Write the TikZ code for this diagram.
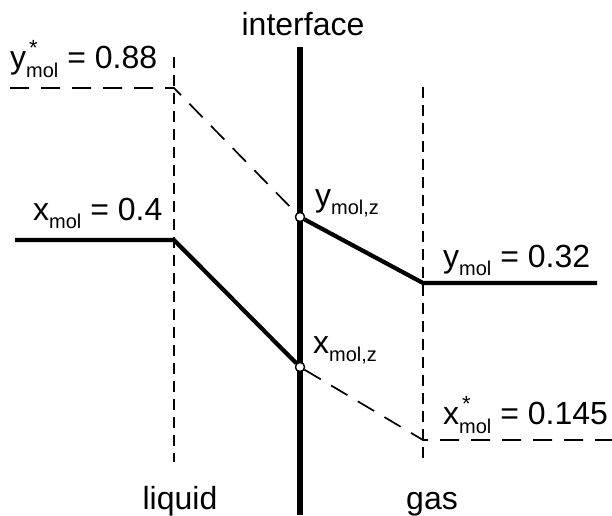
\documentclass[tikz,border=0pt]{standalone}
\usepackage{fontspec}
\setmainfont{Liberation Sans}
\newcommand{\molsub}[2]{#1\raisebox{-8pt}{\fontsize{20}{20}\selectfont #2}}
\newcommand{\molstar}[2]{#1\rlap{\hspace{3pt}\raisebox{13pt}{\fontsize{22}{22}\selectfont *}}\raisebox{-9pt}{\fontsize{20}{20}\selectfont #2}}
\tikzset{
  profile/.style={line width=4.2pt, line join=miter},
  guide/.style={line width=1.7pt, dash pattern=on 11pt off 7pt},
  equil/.style={line width=1.7pt, dash pattern=on 19pt off 12pt},
  wall/.style={line width=6.5pt},
  point/.style={circle, draw, fill=white, line width=1.3pt, inner sep=0pt, minimum size=9pt},
  lab/.style={font=\fontsize{32}{37}\selectfont, inner sep=0pt}
}
\begin{document}
\begin{tikzpicture}[x=1pt,y=-1pt]
\useasboundingbox (0,0) rectangle (612,515);
% interface and film borders
\coordinate (walltop) at (300,47);
\coordinate (wallbot) at (300,515);
\coordinate (ltop) at (174,57);
\coordinate (lbot) at (174,462);
\coordinate (gtop) at (423,87);
\coordinate (gbot) at (423,462);
\draw[wall] (walltop) -- (wallbot);
\draw[guide] (ltop) -- (lbot);
\draw[guide] (gtop) -- (gbot);
% profile corners
\coordinate (lstart) at (15,240);
\coordinate (lcorner) at (174,240);
\coordinate (gcorner) at (423,283);
\coordinate (gend) at (597,283);
\coordinate (ystart) at (10,88);
\coordinate (ycorner) at (174,88);
\coordinate (xcorner) at (423,440);
\coordinate (xend) at (612,440);
\node[point] (yz) at (300,217) {};
\node[point] (xz) at (300,367) {};
% equilibrium values
\draw[equil] (ystart) -- (ycorner) -- (yz);
\draw[equil] (xz) -- (xcorner) -- (xend);
% concentration profiles
\draw[profile] (lstart) -- (lcorner) -- (xz);
\draw[profile] (yz) -- (gcorner) -- (gend);
\node[point] at (yz) {};
\node[point] at (xz) {};
% labels
\node[lab] (tinterface) at (303,35) [anchor=base] {interface};
\node[lab] (tliquid) at (180,509) [anchor=base] {liquid};
\node[lab] (tgas) at (432,509) [anchor=base] {gas};
\node[lab, anchor=base west] (tystar) at (10,68) {\molstar{y}{mol} = 0.88};
\node[lab, anchor=base west] (txmol) at (33,220) {\molsub{x}{mol} = 0.4};
\node[lab, anchor=base west] (tymol) at (443,267) {\molsub{y}{mol} = 0.32};
\node[lab, anchor=base west] (txstar) at (443,424) {\molstar{x}{mol} = 0.145};
\node[lab, anchor=base west] (tyz) at (315,206) {\molsub{y}{mol,z}};
\node[lab, anchor=base west] (txz) at (313,353) {\molsub{x}{mol,z}};
\end{tikzpicture}
\end{document}
